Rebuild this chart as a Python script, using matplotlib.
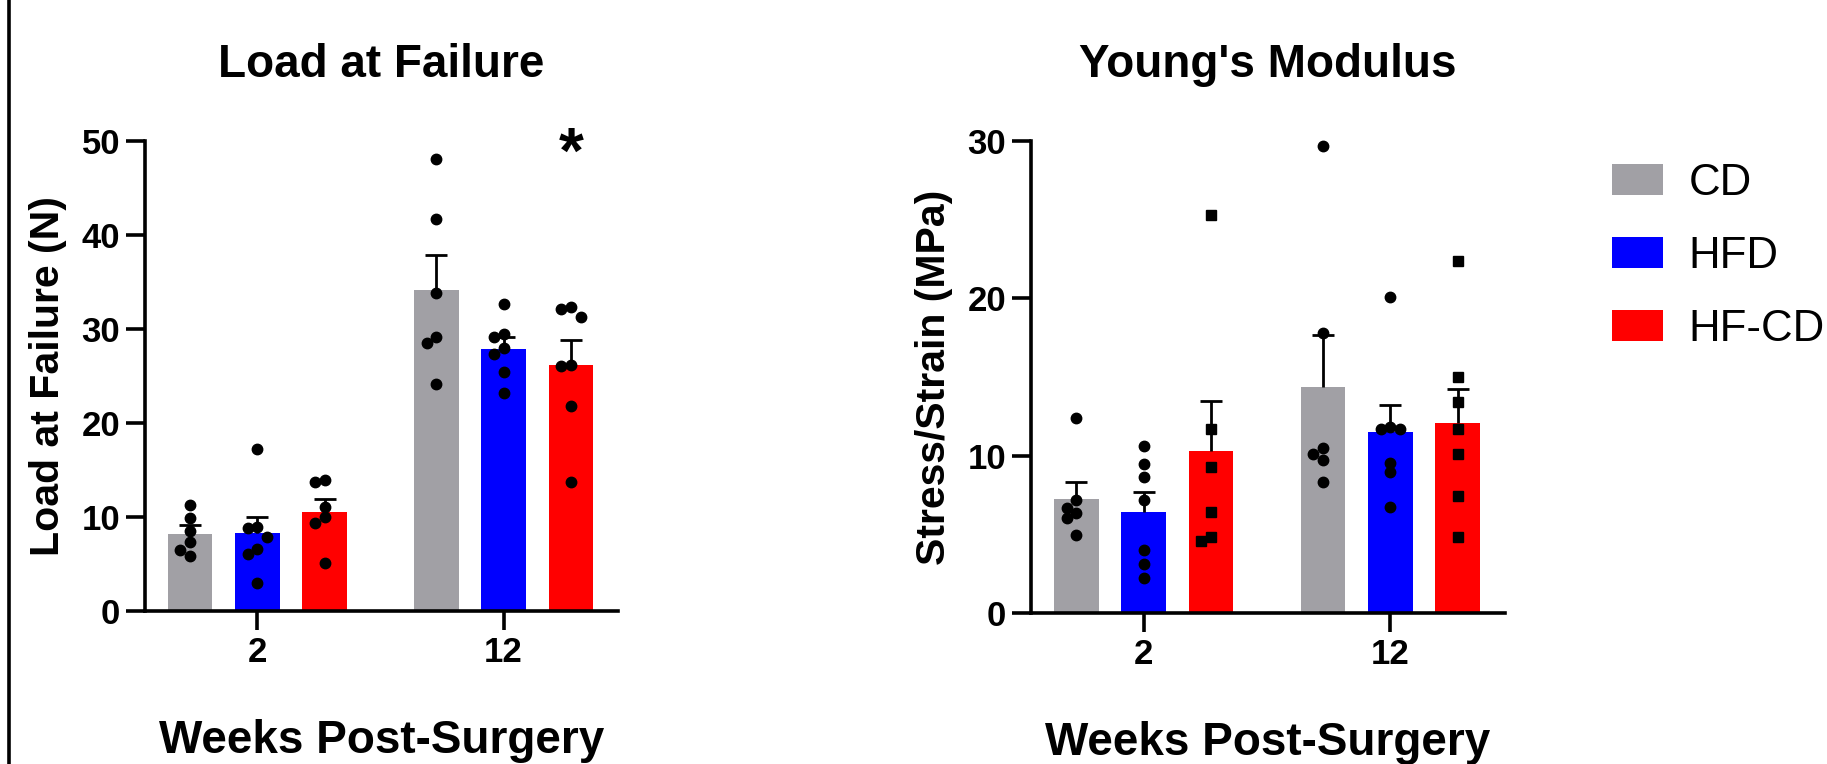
import matplotlib
matplotlib.use('Agg')
import matplotlib.pyplot as plt
from matplotlib.patches import Patch
from matplotlib.lines import Line2D

plt.rcParams['font.family'] = ['Liberation Sans', 'DejaVu Sans']

# ---------------- data ----------------
weeks = ['2', '12']
groups = ['CD', 'HFD', 'HF-CD']
colors = ['#A1A0A5', '#0000FF', '#FF0000']

# Load at Failure (N): bar means, SEM (upward), individual points
load_mean_2 = [8.2, 8.3, 10.5]
load_mean_12 = [34.2, 27.9, 26.2]
load_sem_2 = [0.9, 1.7, 1.4]
load_sem_12 = [3.7, 1.2, 2.6]
load_pts_2 = [[11.3, 9.9, 8.5, 7.3, 6.45, 5.8],
              [17.2, 8.9, 8.8, 7.9, 6.6, 6.1, 3.0],
              [13.9, 13.7, 11.1, 10.0, 9.4, 5.1]]
load_pts_12 = [[48.1, 41.7, 33.8, 29.1, 28.5, 24.2],
               [32.7, 29.5, 29.2, 28.0, 27.3, 25.4, 23.2],
               [32.3, 32.1, 31.3, 26.2, 26.1, 21.8, 13.7]]

# Young's Modulus (MPa)
ym_mean_2 = [7.25, 6.45, 10.3]
ym_mean_12 = [14.35, 11.5, 12.1]
ym_sem_2 = [1.1, 1.25, 3.2]
ym_sem_12 = [3.35, 1.7, 2.15]
ym_pts_2 = [[12.4, 7.2, 6.7, 6.35, 6.05, 4.95],
            [10.6, 9.45, 8.65, 7.2, 4.0, 3.1, 2.25],
            [25.3, 11.7, 9.25, 6.4, 4.8, 4.6]]
ym_pts_12 = [[29.7, 17.8, 10.5, 10.1, 9.75, 8.35],
             [20.1, 11.85, 11.7, 11.7, 9.55, 8.95, 6.75],
             [22.4, 15.0, 13.4, 11.7, 10.1, 7.45, 4.85]]

# ---------------- layout ----------------
W, H = 1827, 764
fig = plt.figure(figsize=(W / 100, H / 100), dpi=100)

GROUP_STEP = 3.66
BAR_W = 0.664
XLIM = (-0.67, 6.36)
DOT_PX = 9.6


def swarm(ax, xc, vals):
    trans = ax.transData
    inv = trans.inverted()
    placed = []
    res = [None] * len(vals)
    order = sorted(range(len(vals)), key=lambda i: -vals[i])
    for i in order:
        xd, yd = trans.transform((xc, vals[i]))
        cand = xd
        for k in [0, -1, 1, -2, 2, -3, 3]:
            cand = xd + k * DOT_PX
            if all((cand - px) ** 2 + (yd - py) ** 2 >= (DOT_PX * 0.98) ** 2
                   for px, py in placed):
                break
        placed.append((cand, yd))
        res[i] = inv.transform((cand, yd))[0]
    return res


def panel(rect, means, sems, pts, ymax, title, ylabel, square_last):
    ax = fig.add_axes(rect)
    ax.set_xlim(*XLIM)
    ax.set_ylim(0, ymax)
    for wi in range(len(weeks)):
        for gi in range(len(groups)):
            x = wi * GROUP_STEP + gi
            m = means[wi][gi]
            s = sems[wi][gi]
            ax.bar(x, m, width=BAR_W, color=colors[gi], zorder=1, linewidth=0)
            ax.plot([x, x], [m, m + s], color='black', lw=2.0, zorder=2,
                    solid_capstyle='butt')
            ax.plot([x], [m + s], marker='_', markersize=16, mew=2.0,
                    color='black', zorder=2)
            vals = pts[wi][gi]
            xs = swarm(ax, x, vals)
            mk = 's' if (square_last and gi == 2) else 'o'
            ms = 6.9 if mk == 's' else 7.5
            ax.plot(xs, vals, linestyle='none', marker=mk, markersize=ms,
                    color='black', zorder=3, clip_on=False)
    ax.set_xticks([GROUP_STEP * i + 1 for i in range(len(weeks))])
    ax.set_xticklabels(weeks)
    ax.set_yticks(range(0, ymax + 1, 10))
    for sp in ['top', 'right']:
        ax.spines[sp].set_visible(False)
    for sp in ['left', 'bottom']:
        ax.spines[sp].set_linewidth(2.6)
    ax.tick_params(axis='both', direction='out', length=14, width=2.6,
                   labelsize=25, pad=4)
    for lab in ax.get_xticklabels() + ax.get_yticklabels():
        lab.set_fontweight('bold')
    ax.set_title(title, fontsize=33, fontweight='bold', pad=46)
    ax.set_ylabel(ylabel, fontsize=29.5, fontweight='bold', labelpad=10)
    ax.set_xlabel('Weeks Post-Surgery', fontsize=33, fontweight='bold',
                  labelpad=36)
    return ax


ax1 = panel([145 / W, 1 - 611 / H, 473 / W, 470 / H],
            [load_mean_2, load_mean_12], [load_sem_2, load_sem_12],
            [load_pts_2, load_pts_12], 50,
            'Load at Failure', 'Load at Failure (N)', False)
ax1.text(GROUP_STEP + 2, 46.6, '*', ha='center', va='baseline', fontsize=46,
         fontweight='bold')

ax2 = panel([1031 / W, 1 - 613 / H, 474 / W, 472 / H],
            [ym_mean_2, ym_mean_12], [ym_sem_2, ym_sem_12],
            [ym_pts_2, ym_pts_12], 30,
            "Young's Modulus", 'Stress/Strain (MPa)', True)

handles = [Patch(facecolor=c, edgecolor='none', label=g)
           for c, g in zip(colors, groups)]
fig.legend(handles=handles, loc='upper left',
           bbox_to_anchor=(1612 / W, 1 - 163 / H), frameon=False,
           fontsize=31.5, handlelength=1.17, handleheight=0.73,
           handletextpad=0.58, labelspacing=0.73, borderpad=0,
           borderaxespad=0)

fig.add_artist(Line2D([9 / W, 9 / W], [0, 1], transform=fig.transFigure,
                      color='black', lw=2.6))

fig.savefig('out.png', dpi=100)
